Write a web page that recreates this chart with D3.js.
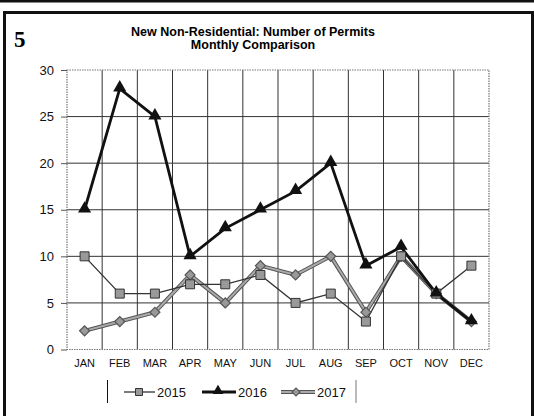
<!DOCTYPE html>
<html>
<head>
<meta charset="utf-8">
<script src="https://cdn.jsdelivr.net/npm/d3@7"></script>
<style>
  body { margin: 0; background: #fff; }
  svg { display: block; font-family: "Liberation Sans", Arial, sans-serif; }
</style>
</head>
<body>
<script>
const months = ['JAN','FEB','MAR','APR','MAY','JUN','JUL','AUG','SEP','OCT','NOV','DEC']
const yTicks = [0, 5, 10, 15, 20, 25, 30]
const s2015 = [10, 6, 6, 7, 7, 8, 5, 6, 3, 10, 6, 9]
const s2016 = [15, 28, 25, 10, 13, 15, 17, 20, 9, 11, 6, 3]
const s2017 = [2, 3, 4, 8, 5, 9, 8, 10, 4, 10, 6, 3]
const seriesNames = ['2015', '2016', '2017']

const m = { width: 534, height: 416, left: 67, right: 489, top: 70, bottom: 349.5 }

const svg = d3.select('body').append('svg')
    .attr('width', m.width)
    .attr('height', m.height)

// outer frame
svg.append('rect').attr('x', 0).attr('y', 0).attr('width', m.width).attr('height', 2.5).attr('fill', '#111')
svg.append('path')
    .attr('d', 'M4.5,416 V12.5 H532.5 V416')
    .attr('fill', 'none').attr('stroke', '#111').attr('stroke-width', 3)

svg.append('text').attr('x', 14).attr('y', 47)
    .attr('font-family', '"Liberation Serif", serif').attr('font-weight', 'bold')
    .attr('font-size', 23).text('5')

const title = svg.append('text').attr('text-anchor', 'middle')
    .attr('font-weight', 'bold').attr('font-size', 12.5)
title.append('tspan').attr('x', 253).attr('y', 36).text('New Non-Residential: Number of Permits')
title.append('tspan').attr('x', 253).attr('y', 48.5).text('Monthly Comparison')

const x = d3.scaleBand().domain(months).range([m.left, m.right])
const y = d3.scaleLinear().domain([0, 30]).range([m.bottom, m.top])

// grid
const g = svg.append('g')
g.selectAll('.hgrid').data(yTicks.filter(d => d > 0 && d < 30)).enter().append('line')
    .attr('x1', m.left).attr('x2', m.right)
    .attr('y1', d => y(d)).attr('y2', d => y(d))
    .attr('stroke', '#333').attr('stroke-width', 1)
g.selectAll('.vgrid').data(months.slice(1)).enter().append('line')
    .attr('x1', d => x(d)).attr('x2', d => x(d))
    .attr('y1', m.top).attr('y2', m.bottom)
    .attr('stroke', '#333').attr('stroke-width', 1)
g.append('rect').attr('x', m.left).attr('y', m.top)
    .attr('width', m.right - m.left).attr('height', m.bottom - m.top)
    .attr('fill', 'none').attr('stroke', '#777').attr('stroke-width', 1.2)
    .attr('stroke-dasharray', '1.5,1')

// axes
const yAxis = svg.append('g').attr('transform', `translate(${m.left},0)`)
    .call(d3.axisLeft(y).tickValues(yTicks).tickSize(6).tickPadding(7))
yAxis.select('.domain').remove()
yAxis.selectAll('line').attr('stroke', '#555')
yAxis.selectAll('text').attr('font-size', 13).attr('fill', '#111')
    .attr('font-family', '"Liberation Sans", Arial, sans-serif')

const xAxis = svg.append('g').attr('transform', `translate(0,${m.bottom})`)
    .call(d3.axisBottom(x).tickSize(0).tickPadding(10))
xAxis.select('.domain').remove()
xAxis.selectAll('text').attr('font-size', 11).attr('fill', '#111')
    .attr('font-family', '"Liberation Sans", Arial, sans-serif')

const line = d3.line().x((d, i) => x(months[i]) + x.bandwidth() / 2).y(d => y(d))

// 2017 - gray double-edged line with diamonds
svg.append('path').datum(s2017).attr('d', line).attr('fill', 'none')
    .attr('stroke', '#555').attr('stroke-width', 4)
svg.append('path').datum(s2017).attr('d', line).attr('fill', 'none')
    .attr('stroke', '#aaa').attr('stroke-width', 2)

// 2015 - thin line with squares
svg.append('path').datum(s2015).attr('d', line).attr('fill', 'none')
    .attr('stroke', '#333').attr('stroke-width', 1.3)

// 2016 - thick black line with triangles
svg.append('path').datum(s2016).attr('d', line).attr('fill', 'none')
    .attr('stroke', '#111').attr('stroke-width', 2.8)

const diamond = d3.symbol().type(d3.symbolSquare).size(50)
const square = d3.symbol().type(d3.symbolSquare).size(81)
const tri = d3.symbol().type(d3.symbolTriangle).size(75)

svg.selectAll('.m2017').data(s2017).enter().append('path')
    .attr('d', diamond)
    .attr('transform', (d, i) => `translate(${x(months[i]) + x.bandwidth() / 2},${y(d)}) rotate(45)`)
    .attr('fill', '#999').attr('stroke', '#555').attr('stroke-width', 1.2)
svg.selectAll('.m2015').data(s2015).enter().append('path')
    .attr('d', square)
    .attr('transform', (d, i) => `translate(${x(months[i]) + x.bandwidth() / 2},${y(d)})`)
    .attr('fill', '#999').attr('stroke', '#333').attr('stroke-width', 1)
svg.selectAll('.m2016').data(s2016).enter().append('path')
    .attr('d', tri)
    .attr('transform', (d, i) => `translate(${x(months[i]) + x.bandwidth() / 2},${y(d) - 1})`)
    .attr('fill', '#111')

// legend
const ly = 392
svg.append('line').attr('x1', 107.5).attr('x2', 107.5).attr('y1', 380).attr('y2', 403).attr('stroke', '#111')
svg.append('line').attr('x1', 356).attr('x2', 356).attr('y1', 380).attr('y2', 403).attr('stroke', '#777')

const legendX = [124, 202, 281]
const lg = svg.selectAll('.leg').data(seriesNames).enter().append('g')
    .attr('transform', (d, i) => `translate(${legendX[i]},${ly})`)
lg.each(function(d, i) {
    const sel = d3.select(this)
    if (i === 0) {
        sel.append('line').attr('x1', 0).attr('x2', 31).attr('stroke', '#333').attr('stroke-width', 1.3)
        sel.append('path').attr('d', d3.symbol().type(d3.symbolSquare).size(49)).attr('transform', 'translate(15,0)')
            .attr('fill', '#999').attr('stroke', '#333')
    } else if (i === 1) {
        sel.append('line').attr('x1', 0).attr('x2', 34).attr('stroke', '#111').attr('stroke-width', 2.8)
        sel.append('path').attr('d', d3.symbol().type(d3.symbolTriangle).size(50)).attr('transform', 'translate(16,-1)').attr('fill', '#111')
    } else {
        sel.append('line').attr('x1', 0).attr('x2', 34).attr('stroke', '#555').attr('stroke-width', 4)
        sel.append('line').attr('x1', 0).attr('x2', 34).attr('stroke', '#aaa').attr('stroke-width', 2)
        sel.append('path').attr('d', d3.symbol().type(d3.symbolSquare).size(32)).attr('transform', 'translate(15,0) rotate(45)')
            .attr('fill', '#999').attr('stroke', '#555').attr('stroke-width', 1.2)
    }
    sel.append('text').attr('x', i === 0 ? 33 : 36).attr('y', 4.5)
        .attr('font-size', 13).attr('fill', '#111').text(d)
})
</script>
</body>
</html>
